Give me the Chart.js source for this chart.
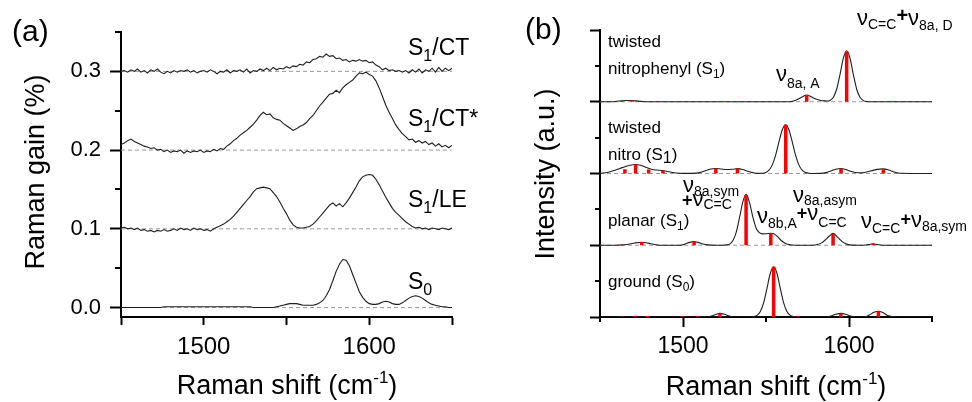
<!DOCTYPE html>
<html>
<head>
<meta charset="utf-8">
<script src="https://cdn.jsdelivr.net/npm/chart.js@4.4.0/dist/chart.umd.min.js"></script>
<style>
  html, body { margin: 0; padding: 0; background: #fff; }
  #wrap { position: relative; width: 972px; height: 402px; }
  canvas { position: absolute; top: 0; }
  #gain { left: 0; }
  #intensity { left: 486px; }
</style>
</head>
<body>
<div id="wrap">
  <canvas id="gain" width="486" height="402"></canvas>
  <canvas id="intensity" width="486" height="402"></canvas>
</div>
<script>
var FONT = '"Liberation Sans", Arial, Helvetica, sans-serif';

// ---- (a) measured Raman gain, sampled every 2 cm-1 ----
var ramanShift = [];
for (var s = 1450; s <= 1650; s += 2) ramanShift.push(s);

var gainCT = [
  .300,.301,.299,.302,.300,.303,.299,.301,.298,.302,
  .300,.303,.299,.297,.300,.298,.301,.299,.301,.300,
  .302,.299,.301,.298,.300,.301,.299,.302,.300,.297,
  .300,.299,.302,.298,.301,.300,.302,.299,.303,.298,
  .301,.300,.303,.301,.304,.301,.305,.302,.304,.303,
  .306,.304,.307,.306,.309,.308,.312,.311,.315,.316,
  .319,.318,.322,.319,.320,.316,.317,.314,.315,.312,
  .314,.313,.315,.313,.314,.311,.312,.308,.306,.302,
  .304,.301,.302,.300,.301,.299,.301,.298,.302,.299,
  .303,.298,.302,.300,.304,.299,.305,.300,.304,.301,
  .304
];
var gainCTstar = [
  .207,.209,.212,.214,.211,.209,.207,.205,.204,.202,
  .203,.200,.201,.198,.200,.197,.199,.198,.200,.196,
  .199,.197,.199,.198,.200,.197,.199,.198,.201,.199,
  .202,.201,.205,.208,.212,.215,.219,.222,.225,.229,
  .233,.238,.244,.248,.245,.246,.241,.239,.238,.234,
  .231,.228,.225,.227,.230,.232,.235,.240,.244,.250,
  .256,.261,.266,.271,.272,.276,.273,.279,.283,.286,
  .289,.294,.298,.297,.299,.296,.294,.288,.279,.268,
  .257,.248,.240,.232,.226,.221,.217,.213,.214,.210,
  .212,.209,.211,.207,.209,.205,.208,.204,.206,.203,
  .206
];
var gainLE = [
  .101,.102,.100,.101,.099,.101,.098,.099,.097,.098,
  .096,.098,.097,.099,.097,.098,.100,.098,.101,.099,
  .100,.098,.101,.099,.100,.098,.099,.097,.100,.102,
  .104,.106,.109,.112,.116,.121,.126,.131,.136,.141,
  .147,.151,.152,.153,.152,.151,.146,.141,.134,.126,
  .119,.111,.105,.102,.101,.101,.102,.103,.106,.110,
  .115,.120,.125,.130,.133,.129,.132,.128,.133,.139,
  .146,.153,.161,.166,.168,.169,.168,.163,.156,.148,
  .140,.133,.126,.121,.117,.113,.109,.106,.103,.101,
  .102,.100,.101,.099,.101,.100,.099,.101,.100,.099,
  .101
];
var gainS0 = [
  0,0,0,0,0,0,0,0,0,0,
  0,0,0,.001,.001,.001,.001,.001,.001,.001,
  .001,.001,.001,.001,.001,.001,.001,.001,.001,.001,
  .001,.001,.001,.001,.001,.001,.001,.001,.001,.001,
  0,0,0,0,0,0,0,.001,.002,.003,
  .004,.005,.005,.005,.004,.003,.003,.003,.003,.004,
  .006,.009,.015,.023,.034,.046,.055,.061,.060,.053,
  .042,.031,.020,.013,.008,.005,.004,.004,.005,.007,
  .008,.007,.005,.004,.004,.006,.009,.012,.014,.015,
  .014,.012,.009,.006,.004,.003,.002,.001,.001,0,
  0
];
var gainBaselines = [0, 0.1, 0.2, 0.3];
var gainTicks = [0, 0.1, 0.2, 0.3];
var gainMinorTicks = [0.05, 0.15, 0.25, 0.35];
var shiftTicks = [1450, 1500, 1550, 1600, 1650];

// ---- (b) calculated spectra: envelope + stick intensities ----
var offsets = [3, 2, 1, 0];

var nitrophenylShift = [1450,1457,1460,1463,1466,1469,1472,1475,1479,1563,1566,1568,1570,1572,1574.5,1577,1579,1581,1583,1585,1587,1588.6,1590.6,1592.6,1594.6,1596.6,1598.6,1600.6,1602.6,1604.6,1606.6,1608.6,1610.6,1613,1650];
var nitrophenylCurve = [0,0,.006,.014,.018,.018,.012,.005,0,0,.008,.022,.045,.07,.095,.072,.048,.03,.018,.012,.01,.018,.062,.178,.383,.608,.71,.608,.383,.178,.062,.016,.004,0,0];
var nitrophenylStickPos = [1463, 1469.5, 1486, 1523.3, 1533.3, 1574.5, 1598.6, 1625.7];
var nitrophenylStickHeight = [.012, .016, .006, .012, .01, .092, .70, .012];

var nitroShift = [1450,1453,1456,1459,1462,1465,1468,1471.5,1475,1478,1481,1484,1487,1490,1493,1496,1500,1506,1510,1513,1516,1519.7,1523,1526.5,1530,1533,1536,1539,1542,1545,1548,1549.8,1551.8,1553.8,1555.8,1557.8,1559.8,1561.8,1563.8,1565.8,1567.8,1569.8,1571.8,1573.8,1575.8,1579,1583,1586,1589,1592,1595.2,1598,1601,1604,1607,1610,1614,1617,1620.7,1624,1627,1631,1650];
var nitroCurve = [.002,.01,.025,.045,.07,.095,.115,.125,.112,.085,.06,.048,.042,.032,.018,.008,.002,.002,.012,.035,.058,.07,.062,.055,.06,.068,.055,.03,.012,.002,.004,.014,.046,.12,.257,.44,.61,.68,.61,.44,.257,.12,.046,.014,.004,0,.002,.012,.035,.06,.07,.055,.03,.014,.01,.018,.04,.058,.065,.048,.022,.003,0];
var nitroStickPos = [1465, 1471.5, 1479.3, 1487.9, 1519.8, 1532.8, 1561.9, 1595.2, 1620.7];
var nitroStickHeight = [.06, .125, .055, .04, .07, .07, .68, .07, .06];

var planarShift = [1450,1459,1462,1465,1468,1471,1475,1479,1482,1486,1498,1501,1504,1506.7,1509,1512,1515,1519,1524,1526,1528,1530,1532,1534,1536,1538,1540,1542,1544,1546,1548,1550,1552.9,1555,1557,1559,1561,1563,1566,1569,1578,1581,1584,1586,1588,1590.4,1592.5,1594.5,1596.5,1599,1602,1609,1612,1614.5,1617,1620,1650];
var planarCurve = [0,0,.004,.008,.018,.032,.042,.03,.014,0,0,.015,.04,.05,.04,.018,.005,0,0,.005,.016,.062,.176,.38,.60,.71,.60,.40,.24,.175,.158,.16,.167,.158,.12,.07,.035,.013,.003,0,0,.01,.04,.08,.125,.165,.128,.08,.04,.012,.002,0,.01,.02,.01,0,0];
var planarStickPos = [1462, 1475.1, 1506.7, 1538, 1552.9, 1590.4, 1614.5];
var planarStickHeight = [.006, .045, .055, .70, .165, .16, .02];

var groundShift = [1450,1514,1517,1520,1522.3,1525,1528,1531,1540,1542.6,1544.6,1546.6,1548.6,1550.6,1552.6,1554.6,1556.6,1558.6,1560.6,1562.6,1564.6,1566.6,1570,1586,1589,1592,1595.2,1598,1601,1604,1609,1612,1615,1617.7,1620,1623,1626,1629,1650];
var groundCurve = [0,0,.012,.038,.05,.038,.012,0,0,.005,.022,.077,.20,.40,.61,.70,.61,.40,.20,.077,.022,.005,0,0,.012,.038,.05,.038,.012,0,0,.025,.065,.08,.065,.025,.005,0,0];
var groundStickPos = [1463.4, 1471, 1478.6, 1499.7, 1509, 1522.3, 1554.6, 1569.5, 1595.1, 1617.7];
var groundStickHeight = [.008, .01, .015, .012, .012, .05, .70, .012, .05, .08];

var intensityTicks = [0, 1, 2, 3, 4];
var intensityMinorTicks = [0.5, 1.5, 2.5, 3.5];

// draw a row of text pieces, each [text, size, dy, weight]
function drawRuns(ctx, x, y, runs, align) {
  var width = 0;
  var parts = runs.map(function (r) {
    ctx.font = (r[3] || '') + ' ' + r[1] + 'px ' + FONT;
    var w = ctx.measureText(r[0]).width;
    width += w;
    return { text: r[0], font: ctx.font, dy: r[2] || 0, w: w };
  });
  var cx = align === 'center' ? x - width / 2 : x;
  parts.forEach(function (p) {
    ctx.font = p.font;
    ctx.fillText(p.text, cx, y + p.dy);
    cx += p.w;
  });
}

var textLayer = {
  id: 'textLayer',
  afterDraw: function (chart, args, opts) {
    var ctx = chart.ctx;
    ctx.save();
    ctx.fillStyle = '#000';
    ctx.textBaseline = 'alphabetic';
    (opts.items || []).forEach(function (item) {
      if (item.rotate) {
        ctx.save();
        ctx.translate(item.x, item.y);
        ctx.rotate(-Math.PI / 2);
        drawRuns(ctx, 0, 0, item.runs, 'center');
        ctx.restore();
      } else {
        drawRuns(ctx, item.x, item.y, item.runs, item.align);
      }
    });
    ctx.restore();
  }
};

// short ticks between the labelled ones
var minorTicks = {
  id: 'minorTicks',
  afterDraw: function (chart, args, opts) {
    var ctx = chart.ctx, area = chart.chartArea;
    ctx.save();
    ctx.strokeStyle = '#000';
    ctx.lineWidth = 2;
    (opts.y || []).forEach(function (v) {
      var py = Math.round(chart.scales.y.getPixelForValue(v));
      ctx.beginPath();
      ctx.moveTo(area.left - opts.length, py);
      ctx.lineTo(area.left, py);
      ctx.stroke();
    });
    (opts.x || []).forEach(function (v) {
      var px = Math.round(chart.scales.x.getPixelForValue(v));
      ctx.beginPath();
      ctx.moveTo(px, area.bottom);
      ctx.lineTo(px, area.bottom + opts.length);
      ctx.stroke();
    });
    ctx.restore();
  }
};

function points(xs, ys, offset) {
  return xs.map(function (x, i) { return { x: x, y: offset + ys[i] }; });
}

function sticks(pos, heights, offset) {
  var out = [];
  pos.forEach(function (p, i) {
    out.push({ x: p, y: offset }, { x: p, y: offset + heights[i] }, { x: p, y: null });
  });
  return out;
}

function baseline(v) {
  return {
    data: [{ x: 1450, y: v }, { x: 1650, y: v }],
    borderColor: '#9a9a9a', borderWidth: 1, borderDash: [4, 3], order: 2
  };
}

function commonOptions() {
  return {
    responsive: false,
    animation: false,
    devicePixelRatio: 1,
    elements: { point: { radius: 0 }, line: { tension: 0 } },
    plugins: { legend: { display: false }, tooltip: { enabled: false } }
  };
}

// ---------- (a) ----------
var gainSets = gainBaselines.map(baseline);
[gainCT, gainCTstar, gainLE, gainS0].forEach(function (arr) {
  gainSets.push({
    data: points(ramanShift, arr, 0),
    borderColor: '#1e1e1e', borderWidth: 1.1, order: 1
  });
});

var optsA = commonOptions();
optsA.layout = { padding: { left: 0, right: 34, top: 32, bottom: 0 } };
optsA.scales = {
  x: {
    type: 'linear', min: 1450, max: 1650,
    afterFit: function (s) { s.height = 85; },
    afterBuildTicks: function (s) { s.ticks = shiftTicks.map(function (v) { return { value: v }; }); },
    border: { display: true, width: 2, color: '#000' },
    grid: { drawOnChartArea: false, tickLength: 8, tickWidth: 2, tickColor: '#000', color: '#000' },
    ticks: {
      color: '#000', padding: 8, maxRotation: 0, autoSkip: false,
      font: { family: FONT, size: 24 },
      callback: function (v) { return v % 100 === 0 ? String(v) : ''; }
    }
  },
  y: {
    type: 'linear', min: -0.012, max: 0.35,
    afterFit: function (s) { s.width = 121; },
    afterBuildTicks: function (s) { s.ticks = gainTicks.map(function (v) { return { value: v }; }); },
    border: { display: true, width: 2, color: '#000' },
    grid: { drawOnChartArea: false, tickLength: 11, tickWidth: 2, tickColor: '#000', color: '#000' },
    ticks: {
      color: '#000', padding: 9,
      font: { family: FONT, size: 22 },
      callback: function (v) { return v.toFixed(1); }
    }
  }
};
optsA.plugins.minorTicks = { y: gainMinorTicks, length: 6 };
optsA.plugins.textLayer = {
  items: [
    { x: 12, y: 41, runs: [['(a)', 30]] },
    { x: 44, y: 172, rotate: true, runs: [['Raman gain (%)', 27]] },
    { x: 287, y: 394, align: 'center', runs: [['Raman shift (cm', 27], ['-1', 17, -11], [')', 27]] },
    { x: 408, y: 55, runs: [['S', 23], ['1', 16, 6], ['/CT', 23]] },
    { x: 408, y: 126, runs: [['S', 23], ['1', 16, 6], ['/CT*', 23]] },
    { x: 408, y: 207, runs: [['S', 23], ['1', 16, 6], ['/LE', 23]] },
    { x: 408, y: 289, runs: [['S', 23], ['0', 16, 6]] }
  ]
};

new Chart(document.getElementById('gain'), {
  type: 'line',
  data: { datasets: gainSets },
  options: optsA,
  plugins: [minorTicks, textLayer]
});

// ---------- (b) ----------
var panels = [
  [nitrophenylShift, nitrophenylCurve, nitrophenylStickPos, nitrophenylStickHeight],
  [nitroShift, nitroCurve, nitroStickPos, nitroStickHeight],
  [planarShift, planarCurve, planarStickPos, planarStickHeight],
  [groundShift, groundCurve, groundStickPos, groundStickHeight]
];
var intensitySets = [];
panels.forEach(function (p, i) {
  var off = offsets[i];
  if (off > 0) intensitySets.push(baseline(off));
  intensitySets.push({
    data: points(p[0], p[1], off),
    borderColor: '#1e1e1e', borderWidth: 1.1, cubicInterpolationMode: 'monotone', order: 1
  });
  intensitySets.push({
    data: sticks(p[2], p[3], off),
    borderColor: '#ff0000', borderWidth: 3.5, borderCapStyle: 'butt', spanGaps: false, order: 0
  });
});

var NU = 22, SUB = 14;
var optsB = commonOptions();
optsB.layout = { padding: { left: 0, right: 40, top: 30, bottom: 0 } };
optsB.scales = {
  x: {
    type: 'linear', min: 1450, max: 1650,
    afterFit: function (s) { s.height = 85; },
    afterBuildTicks: function (s) { s.ticks = [{ value: 1500 }, { value: 1600 }]; },
    border: { display: true, width: 2, color: '#000' },
    grid: { drawOnChartArea: false, tickLength: 10, tickWidth: 2, tickColor: '#000', color: '#000' },
    ticks: {
      color: '#000', padding: 6, maxRotation: 0, autoSkip: false,
      font: { family: FONT, size: 23 },
      callback: function (v) { return String(v); }
    }
  },
  y: {
    type: 'linear', min: 0, max: 4,
    afterFit: function (s) { s.width = 114; },
    afterBuildTicks: function (s) { s.ticks = intensityTicks.map(function (v) { return { value: v }; }); },
    border: { display: true, width: 2, color: '#000' },
    grid: { drawOnChartArea: false, tickLength: 10, tickWidth: 2, tickColor: '#000', color: '#000' },
    ticks: { display: false }
  }
};
optsB.plugins.minorTicks = { y: intensityMinorTicks, x: [1450, 1550, 1650], length: 5 };
optsB.plugins.textLayer = {
  items: [
    { x: 39, y: 39, runs: [['(b)', 30]] },
    { x: 68, y: 174, rotate: true, runs: [['Intensity (a.u.)', 27]] },
    { x: 290, y: 395, align: 'center', runs: [['Raman shift (cm', 27], ['-1', 17, -11], [')', 27]] },
    { x: 122, y: 47, runs: [['twisted', 17]] },
    { x: 122, y: 74, runs: [['nitrophenyl (S', 17], ['1', 12, 4], [')', 17]] },
    { x: 122, y: 133, runs: [['twisted', 17]] },
    { x: 122, y: 160, runs: [['nitro (S', 17], ['1', 16, 3], [')', 17]] },
    { x: 122, y: 226, runs: [['planar (S', 17], ['1', 12, 4], [')', 17]] },
    { x: 122, y: 287, runs: [['ground (S', 17], ['0', 12, 4], [')', 17]] },
    { x: 290, y: 81, runs: [['\u03bd', NU], ['8a, A', SUB, 7]] },
    { x: 371, y: 25, runs: [['\u03bd', NU], ['C=C', SUB, 4], ['+', 20, -3, 'bold'], ['\u03bd', NU], ['8a, D', SUB, 5]] },
    { x: 197, y: 192, runs: [['\u03bd', NU], ['8a,sym', SUB, 4]] },
    { x: 196, y: 206, runs: [['+', 18, 0, 'bold'], ['\u03bd', NU], ['C=C', SUB, 3]] },
    { x: 271, y: 223, runs: [['\u03bd', NU], ['8b,A', SUB, 5], ['+', 18, -4, 'bold'], ['\u03bd', NU, -3], ['C=C', SUB, 4]] },
    { x: 307, y: 202, runs: [['\u03bd', NU], ['8a,asym', SUB, 3]] },
    { x: 375, y: 228, runs: [['\u03bd', NU], ['C=C', SUB, 5], ['+', 18, -3, 'bold'], ['\u03bd', NU, -1], ['8a,sym', SUB, 3]] }
  ]
};

new Chart(document.getElementById('intensity'), {
  type: 'line',
  data: { datasets: intensitySets },
  options: optsB,
  plugins: [minorTicks, textLayer]
});
</script>
</body>
</html>
